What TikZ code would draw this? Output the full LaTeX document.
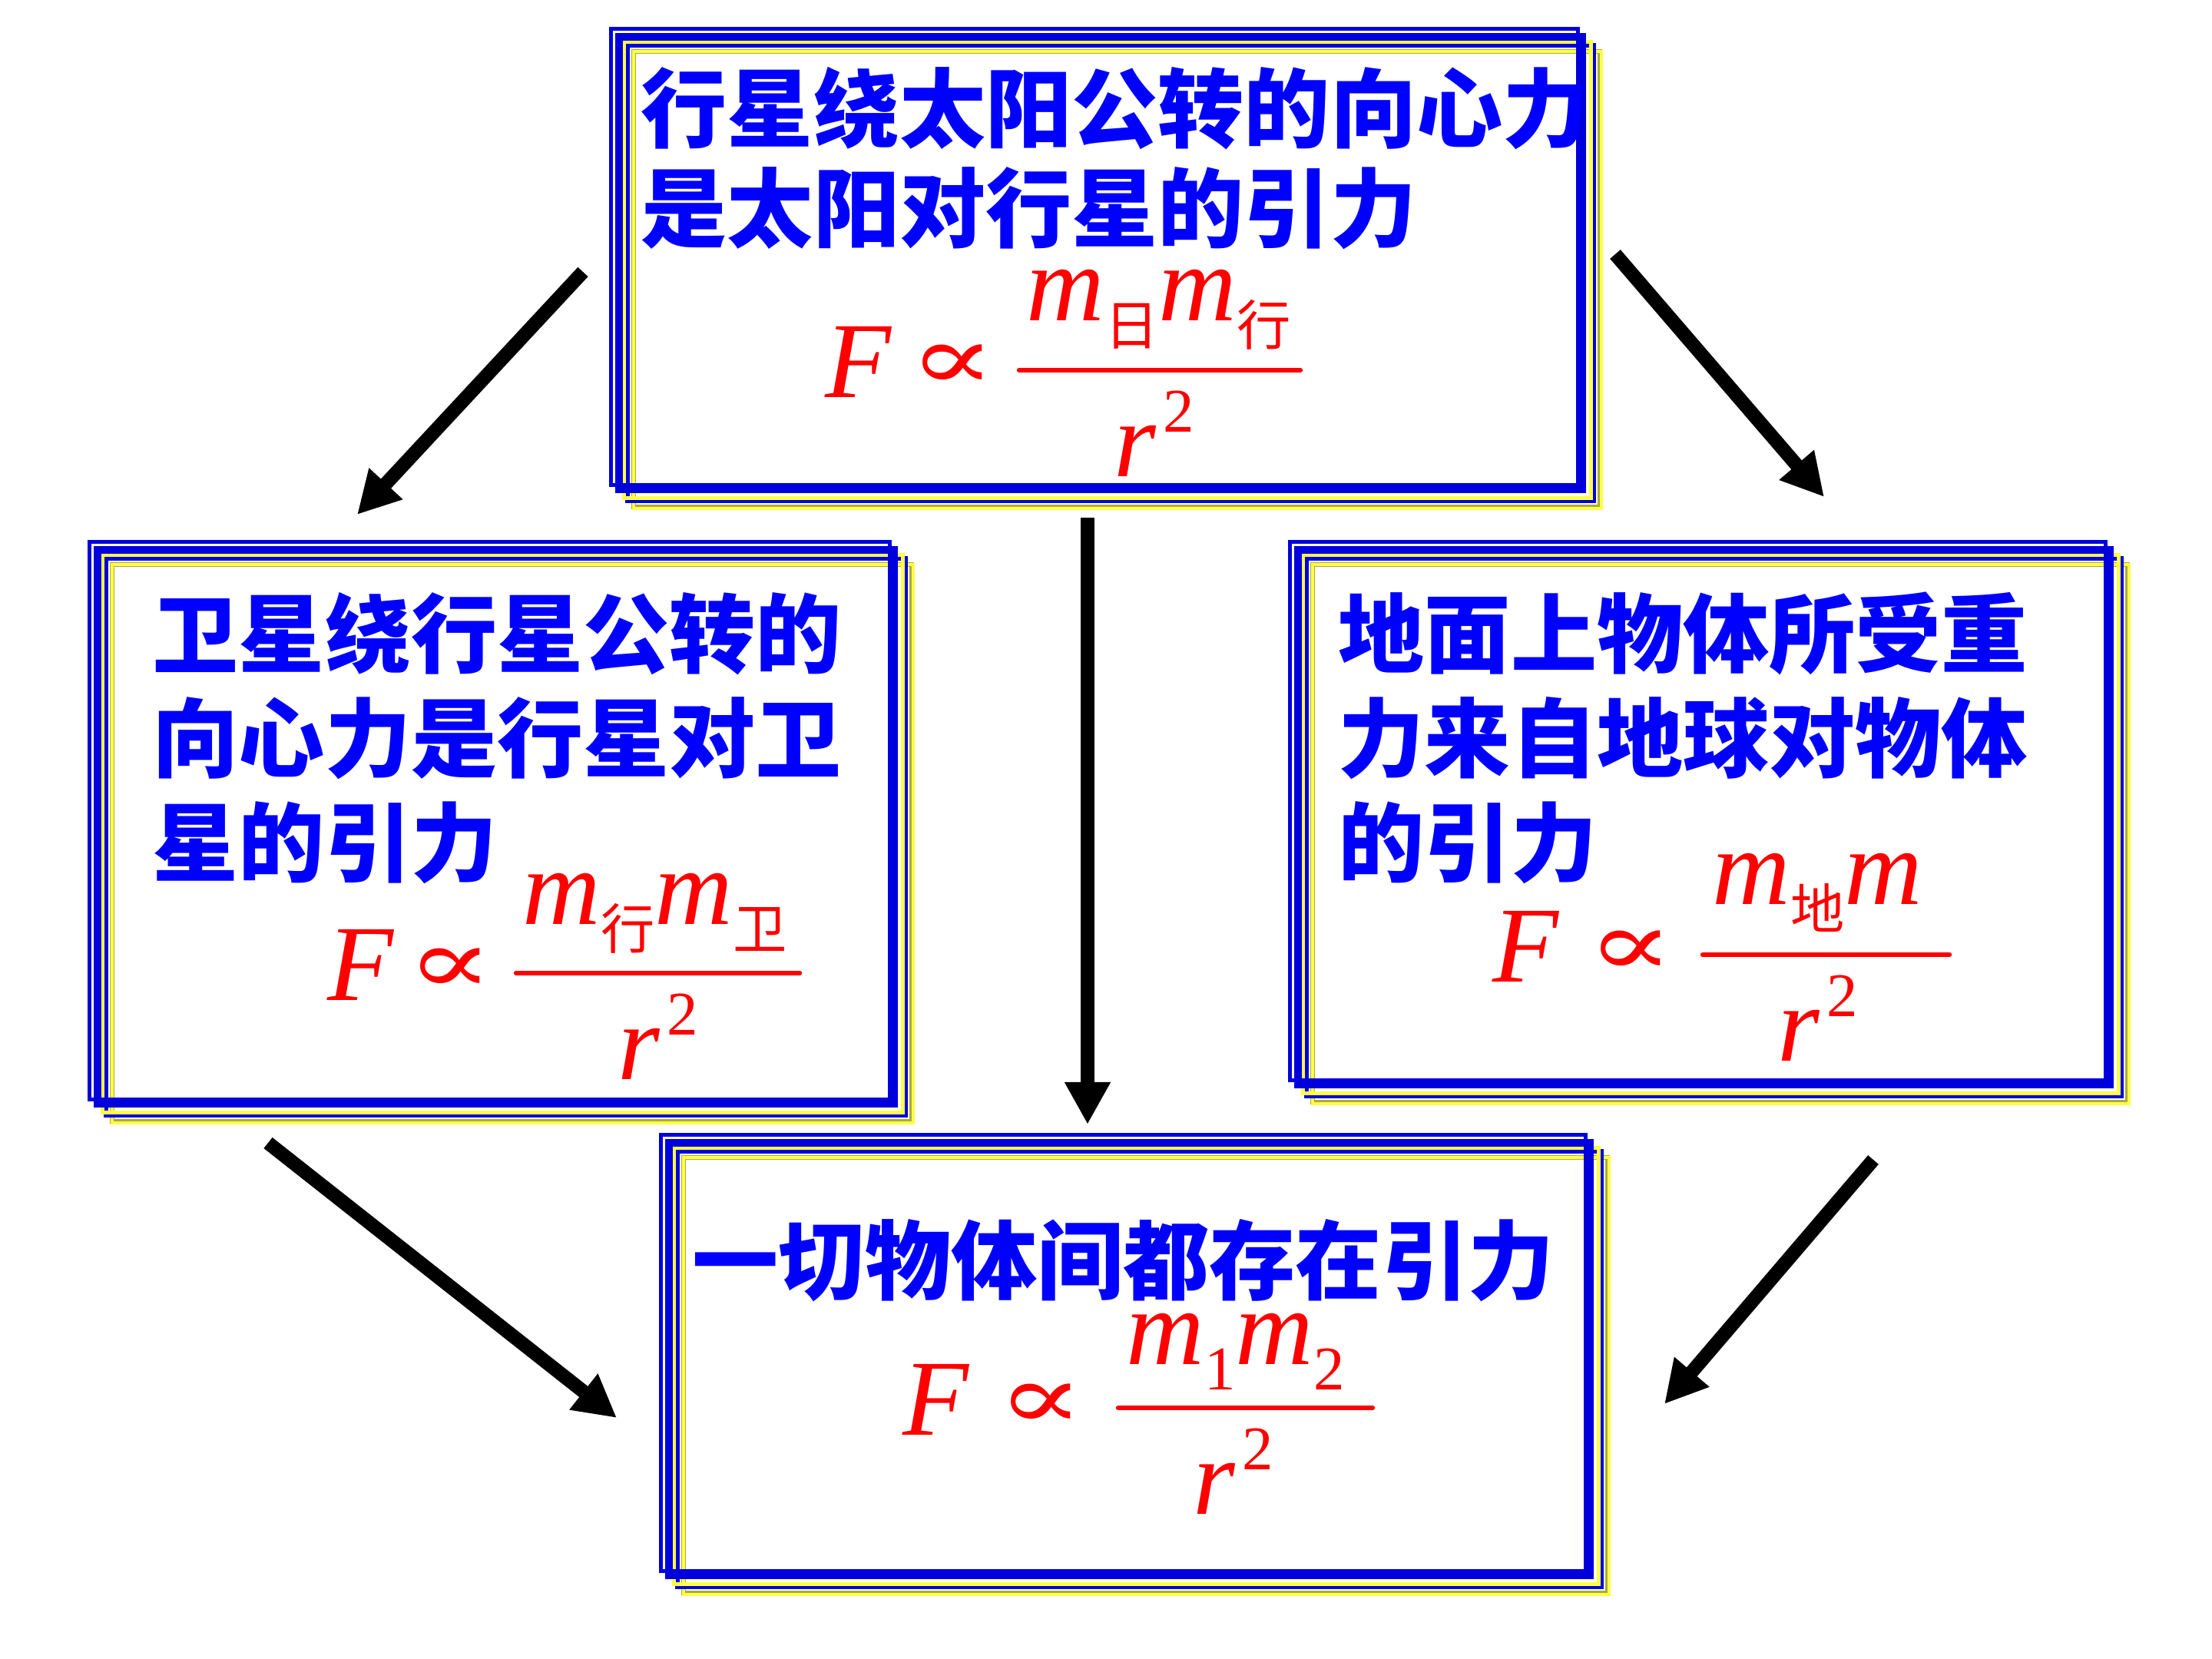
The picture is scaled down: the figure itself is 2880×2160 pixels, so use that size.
\documentclass[tikz,border=0pt]{standalone}
\usepackage{fontspec}
\setmainfont{Liberation Serif}
\newfontfamily\cjk{Noto Sans CJK SC}
\newfontfamily\symf{DejaVu Serif}
\usetikzlibrary{arrows.meta}
\definecolor{fblue}{RGB}{0,0,220}
\definecolor{fyel}{RGB}{255,255,70}
\definecolor{fedge}{RGB}{170,170,60}
\definecolor{tblue}{RGB}{0,0,255}
\definecolor{tred}{RGB}{255,0,0}
% one layer of the frame: shift s, width w (px), colour, box x0 y0 x1 y1
\newcommand\frlayer[7]{%
  \draw[#3, line width=#2*0.01cm] ({#4+#1+#2/2},{#5+#1+#2/2}) rectangle ({#6+#1-#2/2},{#7+#1-#2/2});}
\newcommand\fancyframe[4]{%
  \frlayer{29}{6}{fedge}{#1}{#2}{#3}{#4}%
  \frlayer{30}{4}{fyel}{#1}{#2}{#3}{#4}%
  \frlayer{21}{6}{fblue}{#1}{#2}{#3}{#4}%
  \frlayer{17}{5}{fyel}{#1}{#2}{#3}{#4}%
  \frlayer{8}{10}{fblue}{#1}{#2}{#3}{#4}%
  \frlayer{0}{5}{fblue}{#1}{#2}{#3}{#4}}
\newcommand\csub[1]{\raisebox{-0.32cm}{\upshape\cjk\fontsize{20}{20}\selectfont #1}}
\newcommand\dsub[1]{\raisebox{-0.33cm}{\upshape\fontsize{23}{23}\selectfont #1}}
\newcommand\dsup[1]{\kern0.09cm\raisebox{0.57cm}{\upshape\fontsize{23}{23}\selectfont #1}}
\newcommand\propsym{\scalebox{1.4}[1]{∝}}
\tikzset{
  txt/.style={font=\cjk\bfseries\fontsize{31.9}{38}\selectfont, text=tblue, inner sep=0pt, anchor=base west},
  fm/.style={font=\fontsize{40}{40}\selectfont\itshape, text=tred, inner sep=0pt, anchor=base west},
  prop/.style={font=\symf\fontsize{34}{34}\selectfont, text=tred, inner sep=0pt, anchor=center},
  bar/.style={draw=tred, line width=0.065cm, line cap=round},
  arr/.style={line width=0.18cm, -{Triangle[length=0.55cm,width=0.56cm]}}
}
\begin{document}
\begin{tikzpicture}[x=0.01cm,y=-0.01cm]
\useasboundingbox[fill=white] (0,0) rectangle (2880,2160);

% frames
\fancyframe{793}{35}{2057}{634}
\fancyframe{114}{703}{1161}{1434}
\fancyframe{1677}{703}{2744}{1409}
\fancyframe{858}{1475}{2067}{2048}

% top box
\node[txt] (t1a) at (834,183) {行星绕太阳公转的向心力};
\node[txt] (t1b) at (834,313) {是太阳对行星的引力};
\node[fm] (f1) at (1074,517) {F};
\node[prop] (p1) at (1240,478) {\propsym};
\coordinate (b1l) at (1327,482); \coordinate (b1r) at (1693,482);
\draw[bar] (b1l) -- (b1r);
\node[fm] (n1) at (1336,417) {m\csub{日}m\csub{行}};
\node[fm] (d1) at (1450,620) {r\dsup{2}};

% left box
\node[txt] (t2a) at (198,867) {卫星绕行星公转的};
\node[txt] (t2b) at (198,1003) {向心力是行星对卫};
\node[txt] (t2c) at (198,1139) {星的引力};
\node[fm] (f2) at (426,1302) {F};
\node[prop] (p2) at (586,1264) {\propsym};
\coordinate (b2l) at (672,1267); \coordinate (b2r) at (1041,1267);
\draw[bar] (b2l) -- (b2r);
\node[fm] (n2) at (680,1203) {m\csub{行}m\csub{卫}};
\node[fm] (d2) at (804,1405) {r\dsup{2}};

% right box
\node[txt] (t3a) at (1742,867) {地面上物体所受重};
\node[txt] (t3b) at (1742,1003) {力来自地球对物体};
\node[txt] (t3c) at (1742,1139) {的引力};
\node[fm] (f3) at (1943,1278) {F};
\node[prop] (p3) at (2123,1241) {\propsym};
\coordinate (b3l) at (2217,1243); \coordinate (b3r) at (2538,1243);
\draw[bar] (b3l) -- (b3r);
\node[fm] (n3) at (2229,1177) {m\csub{地}m};
\node[fm] (d3) at (2314,1381) {r\dsup{2}};

% bottom box
\node[txt] (t4a) at (901,1683) {一切物体间都存在引力};
\node[fm] (f4) at (1175,1868) {F};
\node[prop] (p4) at (1355,1831) {\propsym};
\coordinate (b4l) at (1456,1833); \coordinate (b4r) at (1787,1833);
\draw[bar] (b4l) -- (b4r);
\node[fm] (n4) at (1466,1776) {m\dsub{1}m\dsub{2}};
\node[fm] (d4) at (1553,1971) {r\dsup{2}};

% arrows
\coordinate (a1s) at (759,354);   \coordinate (a1e) at (465,670);
\coordinate (a2s) at (2103,331);  \coordinate (a2e) at (2375,647);
\coordinate (a3s) at (1416,674);  \coordinate (a3e) at (1416,1464);
\coordinate (a4s) at (349,1488);  \coordinate (a4e) at (803,1846);
\coordinate (a5s) at (2439,1510); \coordinate (a5e) at (2167,1828);
\draw[arr] (a1s) -- (a1e);
\draw[arr] (a2s) -- (a2e);
\draw[arr] (a3s) -- (a3e);
\draw[arr] (a4s) -- (a4e);
\draw[arr] (a5s) -- (a5e);
\end{tikzpicture}
\end{document}
